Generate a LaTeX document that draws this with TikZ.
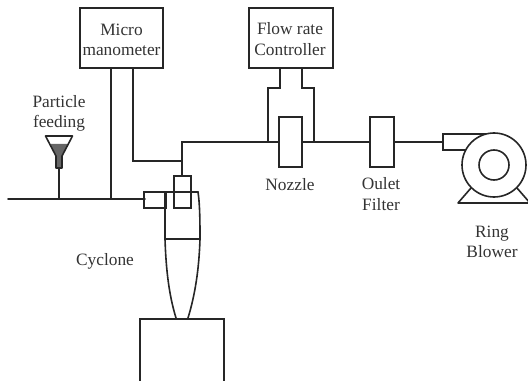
\documentclass[tikz,border=0pt]{standalone}
\usepackage{fontspec}
\setmainfont{Liberation Serif}
\usetikzlibrary{calc}

\begin{document}
\begin{tikzpicture}[x=0.75pt,y=-0.75pt,line cap=round,
	pipe/.style={line width=1.2pt,black!85},
	unit/.style={draw=black!85,line width=1.2pt,fill=white,inner sep=0pt},
	tag/.style={black!80,font=\fontsize{13}{15.5}\selectfont,align=center}]
	
	\useasboundingbox (0,0) rectangle (528,381);
	
	% ---- main line and tees ----
	\coordinate (feedEnd) at (8,199);
	\coordinate (feedTee) at (59,199);
	\coordinate (manoTee) at (111,199);
	\coordinate (pipeTurn) at (182,142);
	\coordinate (tapTee) at (182,161);
	\coordinate (tapTurn) at (133,161);
	
	% ---- boxes ----
	\node[unit,minimum width=83pt*0.75,minimum height=60pt*0.75] (manometer) at (121.5,38) {};
	\node[tag] (manometerText) at (121.5,40) {Micro\\manometer};
	\node[unit,minimum width=84pt*0.75,minimum height=60pt*0.75] (controller) at (291,38) {};
	\node[tag] (controllerText) at (290,39) {Flow rate\\Controller};
	
	% ---- pipes ----
	\draw[pipe] (feedEnd) -- (145,199);
	\draw[pipe] (manoTee) -- (manoTee |- manometer.south);
	\draw[pipe] (tapTurn |- manometer.south) -- (tapTurn) -- (tapTee);
	\draw[pipe] (182,176) -- (pipeTurn) -- (442,142);
	\draw[pipe] (280,68) -- (280,88) -- (268,88) -- (268,142);
	\draw[pipe] (302,68) -- (302,88) -- (314,88) -- (314,142);
	
	% ---- nozzle, filter ----
	\node[unit,minimum width=23pt*0.75,minimum height=50pt*0.75] (nozzle) at (290.5,142) {};
	\node[unit,minimum width=24pt*0.75,minimum height=50pt*0.75] (filter) at (382,142) {};
	
	% ---- particle feeder ----
	\draw[pipe] (feedTee) -- (59,168);
	\fill[black!60] (50.5,144) -- (68.5,144) -- (62,156) -- (62,168) -- (56,168) -- (56,156) -- cycle;
	\draw[pipe,line join=round] (45.5,136) -- (72.5,136) -- (62,156) -- (62,168) -- (56,168) -- (56,156) -- cycle;
	
	% ---- cyclone ----
	\draw[pipe] (144,192) rectangle (166,208);
	\draw[pipe] (166,192) -- (198,192) .. controls (200,205) and (200,225) .. (200,239)
	.. controls (199,270) and (195,295) .. (188,318);
	\draw[pipe] (165,192) -- (165,239) .. controls (166,270) and (169,295) .. (176,318);
	\draw[pipe] (165,239) -- (200,239);
	\draw[pipe] (174,176) rectangle (191,208);
	\node[unit,minimum width=84pt*0.75,minimum height=70pt*0.75,anchor=north] (hopper) at (182,318) {};
	
	% ---- ring blower ----
	\draw[pipe,line join=round] (471,188) -- (458,203) -- (530,203) -- (517,188);
	\draw[pipe] (495,134) -- (443,134) -- (443,150) -- (466,150);
	\draw[pipe,fill=white] (494,165) circle (32);
	\draw[pipe] (494,165) circle (15);
	
	% ---- labels ----
	\node[tag] (feedText) at (59,113.5) {Particle\\feeding};
	\node[tag] (cycloneText) at (105,261) {Cyclone};
	\node[tag] (nozzleText) at (290,185) {Nozzle};
	\node[tag] (filterText) at (381,194) {Oulet\\Filter};
	\node[tag] (blowerText) at (492,242) {Ring\\Blower};
	
\end{tikzpicture}
\end{document}
